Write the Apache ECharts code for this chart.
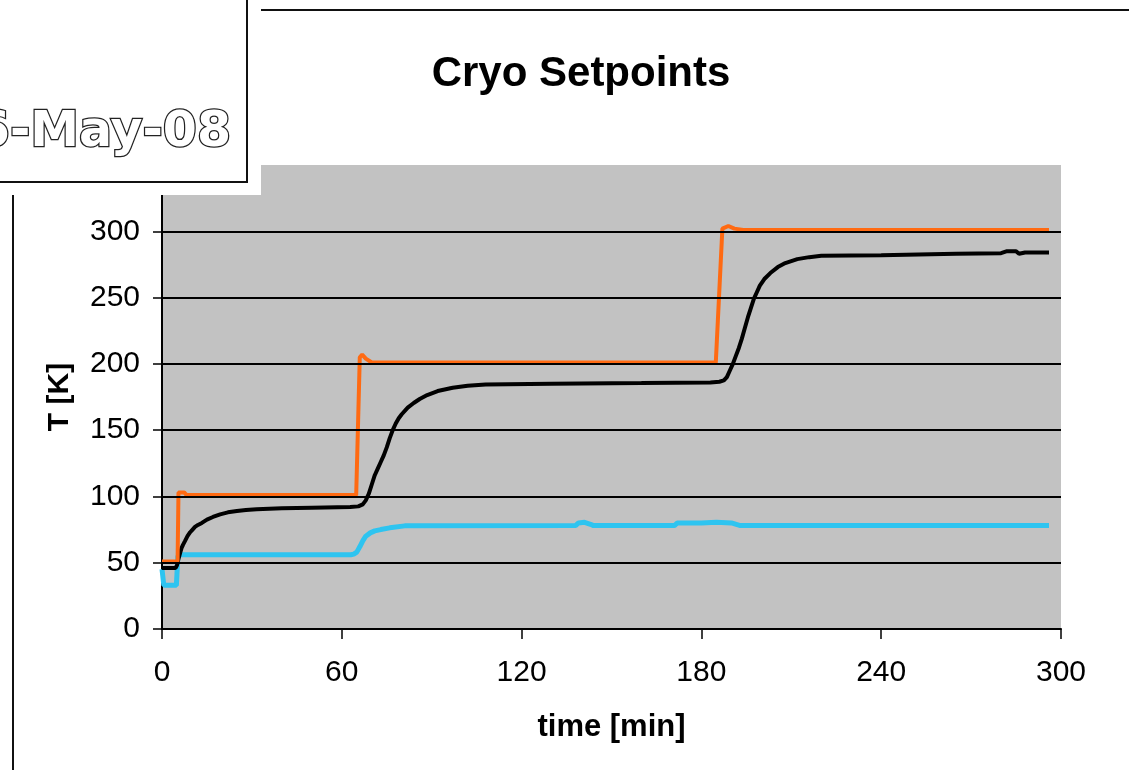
<!DOCTYPE html>
<html>
<head>
<meta charset="utf-8">
<script src="https://cdn.jsdelivr.net/npm/echarts@6/dist/echarts.min.js"></script>
<style>
html,body{margin:0;padding:0;background:#fff;}
#c{width:1129px;height:770px;}
</style>
</head>
<body>
<div id="c"></div>
<script>
// ---- data ----
const titleText = 'Cryo Setpoints';
const dateText = '6-May-08';
const xTicks = [0, 60, 120, 180, 240, 300];
const yTicks = [0, 50, 100, 150, 200, 250, 300];
const gridValues = [50, 100, 150, 200, 250, 300];

// setpoint (orange)
const spTime = [0, 5.2, 5.5, 7.4, 8.2, 64.8, 66.0, 66.8, 68.0, 70.0, 184.8, 187.0, 189.0, 191.0, 194.0, 296];
const spTemp = [51, 51, 103, 103, 101, 101, 205, 207, 204, 201, 201, 302, 304, 302, 301, 301];

// sample temperature (black)
const smTime = [0, 4.5, 5, 5.4, 6, 6.5, 7, 7.7, 8.5, 9.4, 10.2, 11, 12, 13.3, 15, 17, 19.4, 22, 25, 28, 31.6, 40, 50, 62.8,
  65.5, 67, 68, 69, 70, 71, 72, 73, 74, 75, 76, 77, 78, 79, 80, 82, 84, 86, 88.5, 92, 97, 102, 108, 130, 160,
  183, 186, 187.5, 188.5, 189.5, 190.5, 191.5, 192.5, 193.5, 194.5, 195.5, 196.5, 197.5, 198.5, 199.5, 201, 203, 205.5, 208, 212, 216, 220,
  240, 265, 280, 282, 285, 286, 288, 296];
const smTemp = [46, 46, 48, 52, 57, 61, 63.5, 66.5, 70, 73, 75, 77, 78.5, 80, 82.5, 84.5, 86.5, 88, 89, 89.8, 90.4, 91, 91.5, 92,
  92.5, 94, 97, 102, 109, 116, 121, 126, 131, 137, 144, 150, 155, 159, 162, 167, 170.5, 173.5, 176.5, 179.5, 182, 183.5, 184.5, 185, 185.5,
  186, 186.5, 187.5, 190, 195, 200, 206, 212, 219, 227, 235, 242, 249, 254, 259, 264, 268.5, 273, 276, 279, 280.5, 281.5,
  282, 283, 283.5, 285, 285, 283, 284, 284];

// cold head (blue)
const chTime = [0, 0.6, 4.8, 5.3, 6, 63, 64, 65, 66, 67, 68, 69.5, 71, 73, 76, 81, 138, 139, 141, 143, 144, 171, 172, 180, 185, 190, 193, 296];
const chTemp = [45, 33, 33, 55, 56, 56, 56.5, 58, 62, 66.5, 70, 72.5, 74, 75, 76.3, 77.8, 78, 80, 80.5, 79, 78, 78, 80, 80, 80.5, 80, 78, 78];

const pairs = (t, v) => t.map((x, i) => [x, v[i]]);

const chart = echarts.init(document.getElementById('c'), null, {renderer: 'canvas'});
const labelFont = '"Liberation Sans", Arial, sans-serif';
const boldFont = '"Liberation Sans", Arial, sans-serif';

chart.setOption({
  animation: false,
  backgroundColor: '#ffffff',
  title: {
    text: titleText,
    left: 576,
    textAlign: 'center',
    top: 48,
    textStyle: {fontFamily: boldFont, fontWeight: 'bold', fontSize: 42, color: '#000'}
  },
  grid: {
    left: 162, right: 68, top: 165, bottom: 141,
    show: true, backgroundColor: '#c2c2c2', borderWidth: 0
  },
  xAxis: {
    type: 'value', min: xTicks[0], max: xTicks[xTicks.length - 1], interval: 60,
    name: 'time [min]', nameLocation: 'middle', nameGap: 83,
    nameTextStyle: {fontFamily: boldFont, fontWeight: 'bold', fontSize: 31, color: '#000'},
    axisLine: {show: true, onZero: false, lineStyle: {color: '#000', width: 2}},
    axisTick: {show: true, length: 10, lineStyle: {color: '#000', width: 1.5}},
    axisLabel: {margin: 29, fontFamily: labelFont, fontSize: 30, color: '#000'},
    splitLine: {show: false}
  },
  yAxis: {
    type: 'value', min: yTicks[0], max: 350, interval: 50,
    name: 'T [K]', nameLocation: 'middle', nameGap: 87, nameRotate: 90,
    nameTextStyle: {fontFamily: boldFont, fontWeight: 'bold', fontSize: 30, color: '#000'},
    axisLine: {show: true, onZero: false, lineStyle: {color: '#000', width: 2}},
    axisTick: {show: true, length: 9, lineStyle: {color: '#000', width: 1.5}},
    axisLabel: {margin: 22, fontFamily: labelFont, fontSize: 30, color: '#000',
      formatter: v => (yTicks.indexOf(v) >= 0 ? String(v) : '')},
    splitLine: {show: false}
  },
  series: [
    {
      type: 'line', name: 'cold head', data: pairs(chTime, chTemp),
      showSymbol: false, symbol: 'none', smooth: false,
      lineStyle: {color: '#2ec4f0', width: 5}, itemStyle: {color: '#2ec4f0'},
      markLine: {
        silent: true, symbol: ['none', 'none'], label: {show: false},
        lineStyle: {color: '#000', width: 2, type: 'solid'},
        data: gridValues.map(v => ({yAxis: v}))
      },
      z: 2
    },
    {
      type: 'line', name: 'sample', data: pairs(smTime, smTemp),
      showSymbol: false, symbol: 'none',
      lineStyle: {color: '#000000', width: 4}, itemStyle: {color: '#000'},
      z: 3
    },
    {
      type: 'line', name: 'setpoint', data: pairs(spTime, spTemp),
      showSymbol: false, symbol: 'none',
      lineStyle: {color: '#ff6a12', width: 4}, itemStyle: {color: '#ff6a12'},
      z: 4
    }
  ],
  graphic: [
    {type: 'line', shape: {x1: 260, y1: 10, x2: 1129, y2: 10}, style: {stroke: '#111', lineWidth: 2}, z: 100},
    {type: 'line', shape: {x1: 13, y1: 195, x2: 13, y2: 770}, style: {stroke: '#111', lineWidth: 2}, z: 100},
    {type: 'rect', shape: {x: 0, y: 0, width: 261, height: 195}, style: {fill: '#ffffff'}, z: 100},
    {type: 'rect', shape: {x: -10, y: -10, width: 257, height: 192}, style: {fill: '#ffffff', stroke: '#111', lineWidth: 2}, z: 101},
    {type: 'text', x: 231, y: 133, z: 102,
      style: {text: dateText, fill: '#ffffff', stroke: '#222', lineWidth: 2.5,
        font: 'bold 49px "DejaVu Sans", sans-serif', textAlign: 'right', textVerticalAlign: 'middle'}}
  ]
});
</script>
</body>
</html>
